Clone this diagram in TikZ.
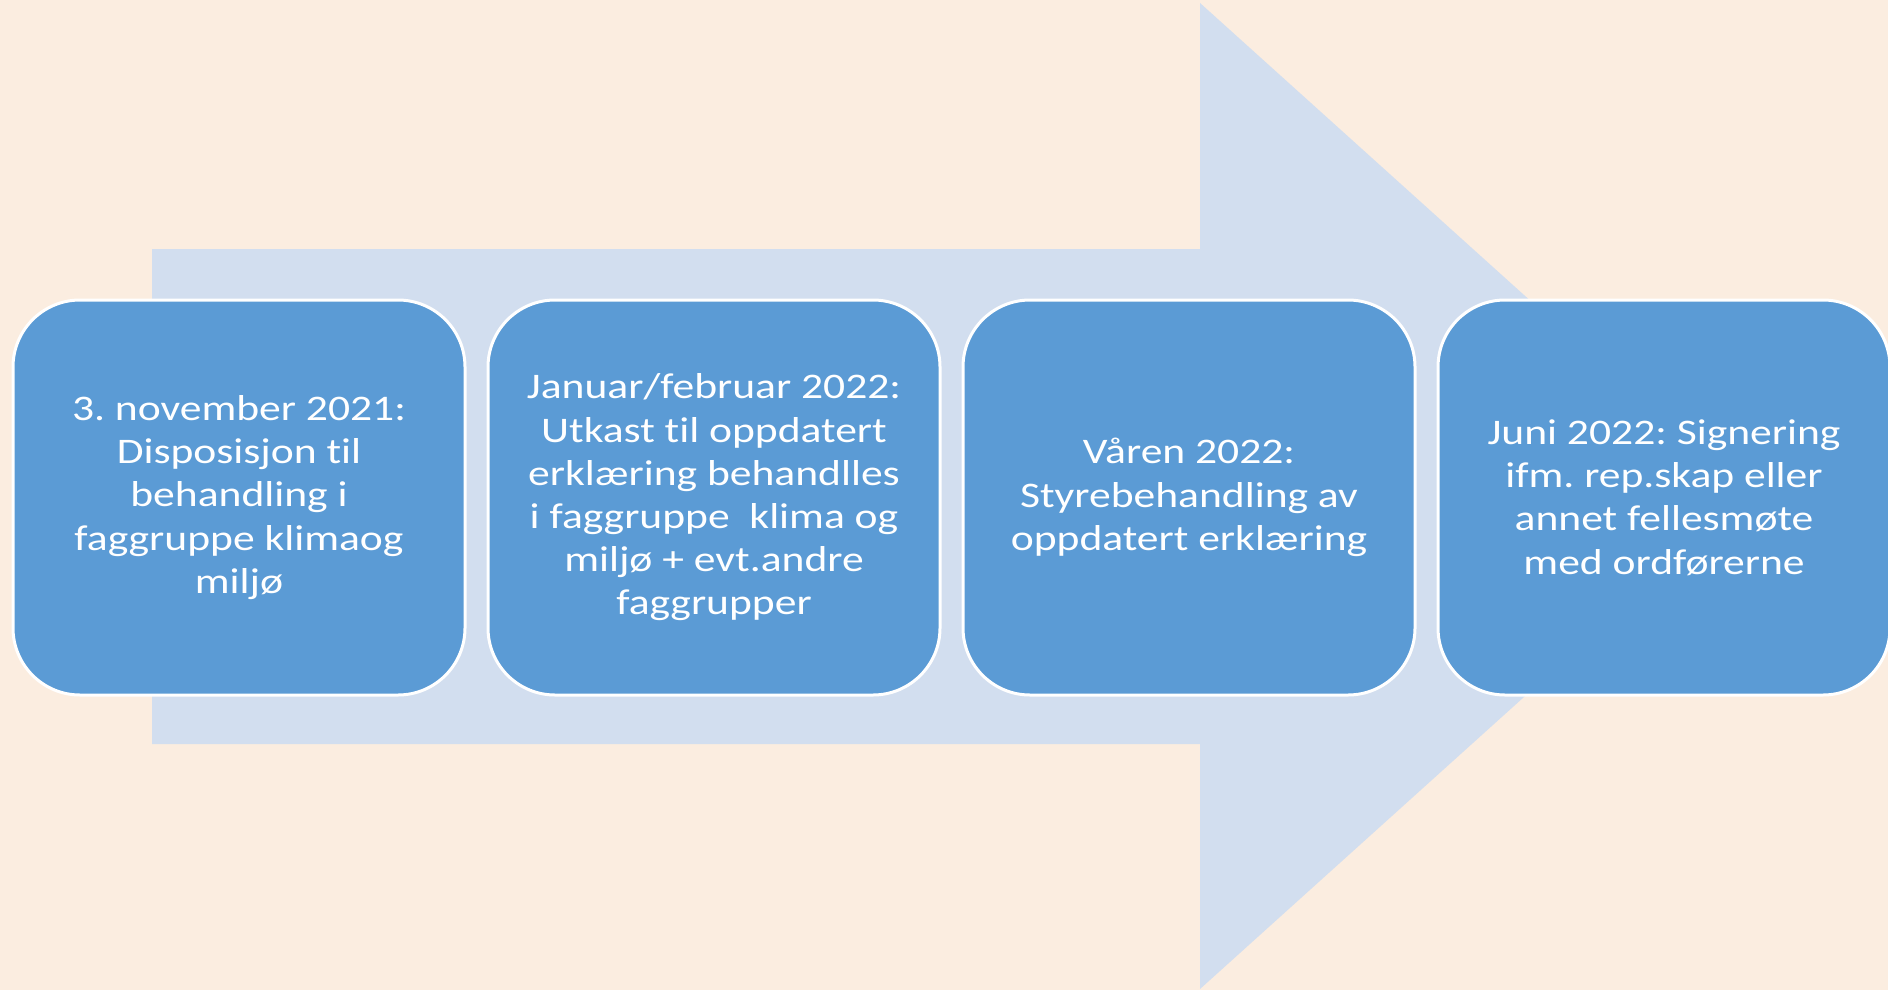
\documentclass[tikz,border=0pt]{standalone}
\usepackage{fontspec}
\setmainfont[FakeStretch=1.21,Ligatures=NoCommon]{Carlito}
\definecolor{bgc}{HTML}{FBEDE0}
\definecolor{arrowc}{HTML}{D2DEEF}
\definecolor{boxc}{HTML}{5B9BD5}
\frenchspacing
\begin{document}
\begin{tikzpicture}[x=0.5pt,y=-0.5pt,
  stepbox/.style={draw=white, line width=1.5pt, fill=boxc, rounded corners=33.5pt,
    minimum width=226pt, minimum height=197.5pt, text=white, align=center,
    font=\fontsize{18}{21.6}\selectfont, inner sep=0pt}]
\useasboundingbox (0,0) rectangle (1888,990);
\fill[bgc] (0,0) rectangle (1888,990);
\fill[arrowc] (152,249) -- (1200,249) -- (1200,3) -- (1747,496) -- (1200,989) -- (1200,744) -- (152,744) -- cycle;
\node[stepbox] (s1) at (239,497.5) {3. november 2021:\\Disposisjon til\\behandling i\\faggruppe klimaog\\miljø};
\node[stepbox] (s2) at (714,497.5) {Januar/februar 2022:\\Utkast til oppdatert\\erklæring behandlles\\i faggruppe\ \ klima og\\miljø + evt.andre\\faggrupper};
\node[stepbox] (s3) at (1189,497.5) {Våren 2022:\\Styrebehandling av\\oppdatert erklæring};
\node[stepbox] (s4) at (1664,497.5) {Juni 2022: Signering\\ifm. rep.skap eller\\annet fellesmøte\\med ordførerne};
\end{tikzpicture}
\end{document}
